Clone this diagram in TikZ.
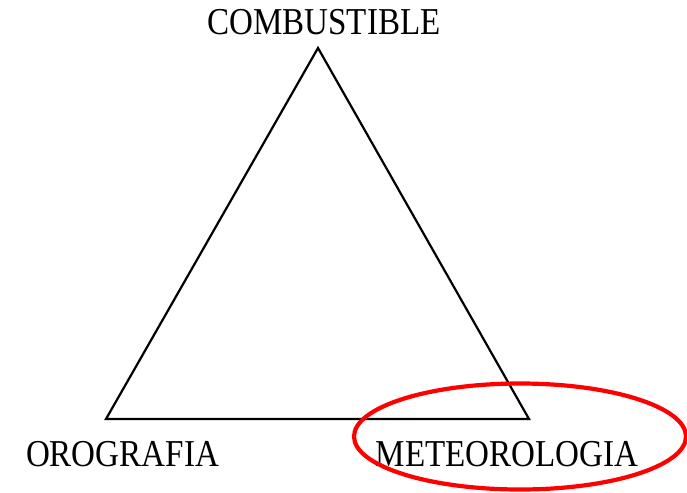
\documentclass[tikz,border=0pt]{standalone}
\usepackage{fontspec}
\setmainfont{Liberation Serif}
\newfontfamily\labfont[FakeStretch=0.87]{Liberation Serif}
\begin{document}
\begin{tikzpicture}[x=1pt,y=-1pt,
  lab/.style={inner sep=0pt,font=\labfont\fontsize{38}{42}\selectfont,anchor=base},
  tri/.style={draw=black,line width=2.2pt,line join=miter},
  ring/.style={draw=red,line width=4.2pt}]
\useasboundingbox (0,0) rectangle (687,492);
\coordinate (top) at (318,48);
\coordinate (left) at (106,419);
\coordinate (right) at (529,419);
\draw[tri] (top) -- (left) -- (right) -- cycle;
\node[lab] (comb) at (324,35) {COMBUSTIBLE};
\node[lab] (oro) at (122.5,466) {OROGRAFIA};
\node[lab] (met) at (507,466) {METEOROLOGIA};
\draw[ring] (520,436.5) ellipse [x radius=166, y radius=53];
\end{tikzpicture}
\end{document}
